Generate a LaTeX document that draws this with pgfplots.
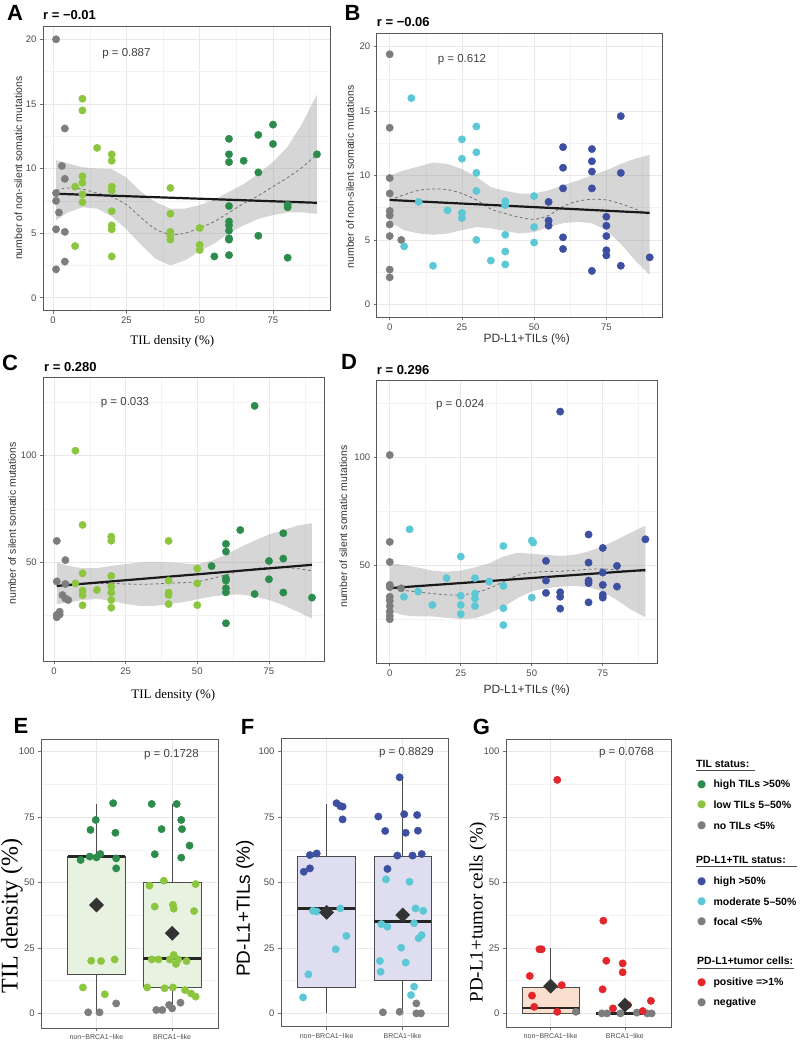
\documentclass[border=0pt]{standalone}
\usepackage{fontspec}
\setmainfont{Liberation Sans}
\newfontfamily\serif{Liberation Serif}
\newfontfamily\dejavu{DejaVu Sans}
\usepackage{pgfplots}
\pgfplotsset{compat=1.18}

\definecolor{dkgreen}{RGB}{44,140,75}
\definecolor{ltgreen}{RGB}{140,198,63}
\definecolor{ptgrey}{RGB}{125,125,125}
\definecolor{dkblue}{RGB}{60,79,160}
\definecolor{ltcyan}{RGB}{92,200,214}
\definecolor{ptred}{RGB}{227,38,43}
\definecolor{boxgreen}{RGB}{232,242,225}
\definecolor{boxblue}{RGB}{222,222,240}
\definecolor{boxred}{RGB}{250,222,206}

\tikzset{ptxt/.style={font=\fontsize{11.5}{12}\selectfont, text=black!75}}
\pgfplotsset{
  ggbase/.style={
    scale only axis, anchor=north west,
    axis line style={draw=black!65, line width=0.8pt},
    tick align=outside, tick pos=left,
    major tick length=3pt, minor tick length=0pt,
    tick style={black!55, line width=0.6pt},
    grid=both,
    major grid style={black!9, line width=0.7pt},
    minor grid style={black!5, line width=0.5pt},
    tick label style={font=\fontsize{9.5}{10}\selectfont, text=black!70},
    /pgf/number format/assume math mode=true,
    clip=true,
  },
  pts/.style={only marks, mark=*, mark size=3.7pt, color=#1},
  band/.style={fill=black!40, fill opacity=0.4, draw=none},
  loess/.style={black!55, dash pattern=on 3pt off 2.5pt, line width=0.8pt, smooth},
  lmline/.style={black!90, line width=2.2pt},
  boxax/.style={ggbase, xtick={1,2}, xticklabels={non−BRCA1−like, BRCA1−like},
    x tick label style={font=\fontsize{7}{7}\selectfont},
    ytick={0,25,50,75,100}, minor ytick={12.5,37.5,62.5,87.5}, minor xtick={}},
  whisk/.style={black!70, line width=0.8pt},
  boxsty/.style={draw=black!70, fill=#1, line width=0.8pt},
  med/.style={black!85, line width=2.6pt},
  mean/.style={only marks, mark=square*, mark size=5pt, mark options={rotate=45}, color=black!80},
}

\begin{document}
\begin{tikzpicture}
\path[use as bounding box] (0pt,0pt) rectangle (800pt,-1040pt);

% ---------------- A ----------------
\begin{axis}[ggbase, at={(43pt,-26pt)}, width=287pt, height=284.7pt,
  xmin=-3.45, xmax=94.45, ymin=-1, ymax=21.03,
  xtick={0,25,50,75}, minor xtick={12.5,37.5,62.5,87.5},
  ytick={0,5,10,15,20}, minor ytick={2.5,7.5,12.5,17.5}]
\addplot[pts=ptgrey] coordinates {(1,20) (4,13.1) (3,10.2) (4,9.2) (1,8.1) (1,7.5) (2,6.6) (1,5.3) (4,5.1) (4,2.8) (1,2.2)};
\addplot[pts=ltgreen] coordinates {(10,15.4) (10,14.5) (15,11.6) (20,11.1) (20,10.6) (7.5,8.6) (10,9.4) (10,8.9) (10,8.0) (10,7.4) (20,8.6) (20,8.3) (20,6.7) (20,5.6) (20,5.3) (20,3.2) (7.5,4.0) (40,8.5) (40,6.5) (40,5.1) (40,4.8) (40,4.5) (50,5.4) (50,4.1) (50,3.7)};
\addplot[pts=dkgreen] coordinates {(55,3.2) (60,12.3) (60,11.1) (60,10.5) (60,7.1) (60,5.9) (60,5.6) (60,5.2) (60,4.6) (60,4.5) (60,3.3) (65,10.6) (70,12.6) (70,9.7) (70,4.8) (75,13.4) (75,11.9) (80,7.2) (80,7.0) (80,3.1) (90,11.1)};
\addplot[band] coordinates {(1,10.65) (5,10.4) (10,10.1) (15,10.0) (20,9.95) (25,9.3) (30,8.2) (35,7.4) (40,6.9) (45,6.9) (50,7.17) (55,7.6) (60,8.2) (65,8.8) (70,9.6) (75,10.5) (80,11.7) (85,13.5) (90,15.74)
  (90,6.5) (85,6.6) (80,6.6) (75,6.4) (70,6.1) (65,5.6) (60,5.0) (55,4.2) (50,3.6) (45,2.9) (40,2.5) (35,3.0) (30,4.1) (25,5.3) (20,6.3) (15,6.9) (10,7.0) (5,6.6) (1,6.0)} -- cycle;
\addplot[loess] coordinates {(1,8.3) (5,8.5) (10,8.4) (15,8.1) (20,7.8) (25,7.2) (30,6.2) (35,5.3) (40,4.9) (45,5.0) (50,5.4) (55,5.9) (60,6.6) (65,7.3) (70,7.9) (75,8.6) (80,9.3) (85,10.1) (90,11.1)};
\addplot[lmline] coordinates {(1,8.05) (90,7.35)};
\node[ptxt] at (axis cs:25,18.9) {p = 0.887};
\end{axis}

% ---------------- B ----------------
\begin{axis}[ggbase, at={(376.7pt,-33pt)}, width=286pt, height=284.3pt,
  xmin=-4.5, xmax=94.5, ymin=-1, ymax=21.05,
  xtick={0,25,50,75}, minor xtick={12.5,37.5,62.5,87.5},
  ytick={0,5,10,15,20}, minor ytick={2.5,7.5,12.5,17.5}]
\addplot[pts=ptgrey] coordinates {(0,19.4) (0,13.7) (0,9.8) (0,8.6) (0,7.25) (0,6.9) (0,6.2) (0,5.3) (4,5.0) (0,2.7) (0,2.1)};
\addplot[pts=ltcyan] coordinates {(7.5,16.0) (5,4.5) (10,7.95) (15,3.0) (20,7.3) (25,12.8) (25,11.3) (25,7.1) (25,6.7) (30,13.8) (30,11.8) (30,10.2) (30,8.8) (30,5.0) (35,3.4) (40,8.0) (40,7.7) (40,5.4) (40,4.1) (40,3.1) (50,8.4) (50,6.0) (50,4.8)};
\addplot[pts=dkblue] coordinates {(55,7.95) (55,6.5) (55,6.1) (60,12.2) (60,10.6) (60,9.0) (60,5.2) (60,4.3) (70,12.05) (70,11.1) (70,10.3) (70,9.0) (70,2.6) (75,6.8) (75,6.1) (75,5.3) (75,4.2) (75,3.8) (80,14.6) (80,10.2) (80,3.0) (90,3.65)};
\addplot[band] coordinates {(0,10.0) (5,10.4) (10,10.7) (15,11.0) (20,10.9) (25,10.5) (30,9.9) (35,9.1) (40,8.8) (45,8.6) (50,8.6) (55,8.85) (60,9.25) (65,9.6) (70,10.0) (75,10.4) (80,10.9) (85,11.3) (90,11.6)
  (90,2.3) (85,3.4) (80,4.7) (75,5.75) (70,6.3) (65,6.4) (60,6.3) (55,6.0) (50,5.6) (45,5.5) (40,5.7) (35,5.9) (30,6.0) (25,5.75) (20,5.5) (15,5.4) (10,5.5) (5,5.75) (0,6.4)} -- cycle;
\addplot[loess] coordinates {(0,8.1) (5,8.5) (10,8.85) (15,8.95) (20,8.9) (25,8.6) (30,8.1) (35,7.4) (40,7.05) (45,6.75) (50,6.6) (55,6.9) (60,7.6) (65,8.0) (70,8.15) (75,8.1) (80,7.8) (85,7.4) (90,6.95)};
\addplot[lmline] coordinates {(0,8.1) (90,7.1)};
\node[ptxt] at (axis cs:25,19.0) {p = 0.612};
\end{axis}

% ---------------- C ----------------
\begin{axis}[ggbase, at={(43.3pt,-377.3pt)}, width=281pt, height=283.7pt,
  xmin=-3.7, xmax=94.3, ymin=3.7, ymax=136.7,
  xtick={0,25,50,75}, minor xtick={12.5,37.5,62.5,87.5},
  ytick={50,100}, minor ytick={25,75,125}]
\addplot[pts=ptgrey] coordinates {(1,60) (4,51) (1,41) (4,39.8) (3,34.6) (4,33) (5,32.3) (2,26.8) (1,25.3) (1,24.2) (2,25.5)};
\addplot[pts=ltgreen] coordinates {(7.5,102.3) (10,67.5) (10,44.8) (10,36.7) (10,34.6) (10,29.8) (7.5,40.1) (15,37) (20,62) (20,60.1) (20,43.6) (20,38.6) (20,35.8) (20,32.3) (20,28.7) (40,60) (40,41.4) (40,35.8) (40,34.6) (40,30.4) (50,47) (50,40.1) (50,29.9)};
\addplot[pts=dkgreen] coordinates {(55,48.2) (60,58.6) (60,55) (60,42.5) (60,41.4) (60,37.8) (60,35.9) (60,21.4) (65,65.1) (70,123.3) (70,35.1) (75,50.6) (75,42) (80,63.6) (80,51.7) (80,35.8) (90,33.4)};
\addplot[band] coordinates {(1,49.9) (5,48.3) (10,47.2) (15,47.2) (20,48.3) (25,49.1) (30,49.9) (35,50.2) (40,49.9) (45,49.5) (50,49.1) (55,50.7) (60,53.5) (65,57) (70,60.2) (75,63) (80,65.1) (85,67.2) (90,68.3)
  (90,23.6) (85,26.8) (80,29.9) (75,32.3) (70,33.9) (65,34.9) (60,34.7) (55,33.9) (50,32.6) (45,31.2) (40,30.4) (35,29.5) (30,29.5) (25,30.4) (20,32) (15,32.8) (10,32.3) (5,31.1) (1,30.4)} -- cycle;
\addplot[loess] coordinates {(1,40.2) (5,39.7) (10,39.8) (15,40) (20,40.1) (25,39.8) (30,39.7) (35,39.8) (40,40.2) (45,40.4) (50,40.9) (55,42.3) (60,44.1) (65,45.9) (70,47.0) (75,47.6) (80,47.5) (85,47) (90,46)};
\addplot[lmline] coordinates {(1,38.9) (90,48.8)};
\node[ptxt] at (axis cs:24.8,124.8) {p = 0.033};
\end{axis}

% ---------------- D ----------------
\begin{axis}[ggbase, at={(376.7pt,-380.7pt)}, width=280.6pt, height=282.6pt,
  xmin=-4.6, xmax=94.2, ymin=4.8, ymax=135.6,
  xtick={0,25,50,75}, minor xtick={12.5,37.5,62.5,87.5},
  ytick={50,100}, minor ytick={25,75,125}]
\addplot[pts=ptgrey] coordinates {(0,101.2) (0,61.0) (0,51.7) (0,41.1) (0,40) (4,39.5) (0,35.6) (0,33.8) (0,31.3) (0,28.7) (0,26.7) (0,25.2)};
\addplot[pts=ltcyan] coordinates {(7,66.8) (5,35.6) (10,38) (15,31.8) (20,44.2) (25,54.2) (25,36.1) (25,31.8) (25,27.6) (30,44.2) (30,37.1) (30,34.8) (30,31.3) (35,42.6) (40,59.1) (40,40.6) (40,30.3) (40,22.5) (50,61.6) (50.5,60.7) (50,35.2)};
\addplot[pts=dkblue] coordinates {(60,121.3) (55,52.2) (55,43.1) (55,37.4) (60,37.7) (60,35.6) (60,30.1) (70,64.4) (70,51.4) (70,43.1) (70,41.9) (70,33.0) (75,58.2) (75,46.8) (75,41.1) (75,36.5) (75,35.2) (80,49.9) (80,40.3) (90,62.2)};
\addplot[band] coordinates {(0,51.1) (5,50.3) (10,49.1) (15,47.7) (20,47.2) (25,47.7) (30,49.2) (35,51.1) (40,54.2) (45,56) (50,55.5) (55,55) (60,54.5) (65,55) (70,56.6) (75,58.9) (80,62) (85,65.4) (90,68.5)
  (90,26.1) (85,29.6) (80,34) (75,38.1) (70,40) (65,40.6) (60,40.3) (55,39.6) (50,38.1) (45,35) (40,30.8) (35,27.9) (30,25.6) (25,25.3) (20,25.8) (15,26.5) (10,26.5) (5,27) (0,29)} -- cycle;
\addplot[loess] coordinates {(0,40) (5,38.6) (10,37.8) (15,37.1) (20,36.5) (25,36.5) (30,37.4) (35,39.5) (40,42.5) (45,45.5) (50,46.8) (55,47.3) (60,47.4) (65,47.8) (70,48.3) (75,48.5) (80,48) (85,47.5) (90,47.3)};
\addplot[lmline] coordinates {(0,39.6) (90,48.0)};
\node[ptxt] at (axis cs:24.8,124.3) {p = 0.024};
\end{axis}

% ---------------- E ----------------
\begin{axis}[boxax, at={(41.3pt,-739.3pt)}, width=177pt, height=289pt,
  xmin=0.27, xmax=2.61, ymin=-5.7, ymax=104.7]
\addplot[whisk] coordinates {(1,0.2) (1,15)};
\addplot[whisk] coordinates {(1,60) (1,80)};
\addplot[whisk] coordinates {(2,1.5) (2,10)};
\addplot[whisk] coordinates {(2,50) (2,80)};
\addplot[boxsty=boxgreen] coordinates {(0.62,15) (1.38,15) (1.38,60) (0.62,60)} -- cycle;
\addplot[boxsty=boxgreen] coordinates {(1.62,10) (2.38,10) (2.38,50) (1.62,50)} -- cycle;
\addplot[med] coordinates {(0.62,60) (1.38,60)};
\addplot[med] coordinates {(1.62,21) (2.38,21)};
\addplot[pts=dkgreen] coordinates {(1.22,80.3) (0.99,73.9) (0.92,70.1) (1.25,69.0) (0.79,58.6) (0.91,59.9) (1.0,59.6) (1.05,60.9) (1.26,59.2) (1.26,55.4)
 (1.73,80.0) (2.06,80.0) (1.86,70.4) (2.12,73.9) (2.13,70.4) (2.23,64.1) (1.77,60.8) (2.12,59.5)};
\addplot[pts=ltgreen] coordinates {(0.93,20.1) (1.06,20.0) (1.24,20.6) (0.82,9.9) (1.11,7.3)
 (1.70,48.8) (1.89,50.7) (2.31,49.4) (1.77,40.8) (2.01,41.5) (2.02,40.0) (2.29,39.1) (1.73,20.6) (1.82,20.6) (1.97,20.6) (2.02,22.3) (2.08,20.6) (2.19,20.0) (2.05,18.9) (1.67,9.9) (1.90,9.6) (2.01,9.9) (2.17,8.9) (2.25,7.6) (2.31,6.4)};
\addplot[pts=ptgrey] coordinates {(0.89,0.4) (1.04,0.4) (1.26,3.8) (1.79,1.3) (1.87,1.3) (1.96,3.2) (2.0,1.9) (2.11,4.1)};
\addplot[mean] coordinates {(1,41.4) (2,30.6)};
\node[ptxt] at (axis cs:1.99,99) {p = 0.1728};
\end{axis}

% ---------------- F ----------------
\begin{axis}[boxax, at={(281pt,-738.3pt)}, width=167.3pt, height=288.4pt,
  xmin=0.4, xmax=2.6, ymin=-5.1, ymax=105.1]
\addplot[whisk] coordinates {(1,0) (1,10)};
\addplot[whisk] coordinates {(1,60) (1,80)};
\addplot[whisk] coordinates {(2,0) (2,12.5)};
\addplot[whisk] coordinates {(2,60) (2,90)};
\addplot[boxsty=boxblue] coordinates {(0.622,10) (1.378,10) (1.378,60) (0.622,60)} -- cycle;
\addplot[boxsty=boxblue] coordinates {(1.622,12.5) (2.378,12.5) (2.378,60) (1.622,60)} -- cycle;
\addplot[med] coordinates {(0.622,40) (1.378,40)};
\addplot[med] coordinates {(1.622,35) (2.378,35)};
\addplot[pts=dkblue] coordinates {(1.13,80.3) (1.18,79.2) (1.21,79.0) (1.21,74.1) (0.78,60.5) (0.87,61.1) (0.70,54.1) (0.78,55.4)
 (1.96,90.2) (1.68,75.2) (2.02,76.1) (2.19,75.8) (1.77,69.7) (2.04,69.0) (2.20,69.8) (1.93,60.3) (2.13,60.3) (2.25,60.9) (1.80,55.2)};
\addplot[pts=ltcyan] coordinates {(0.82,39.2) (0.87,38.9) (1.18,40.1) (1.26,29.6) (1.12,24.5) (0.76,14.9) (0.69,6.1)
 (1.78,51.2) (2.09,50.3) (2.17,40.1) (2.27,39.2) (2.15,34.4) (1.72,34.1) (1.80,33.1) (2.25,29.9) (2.21,28.7) (1.98,25.1) (2.04,19.4) (1.70,20.0) (1.71,15.9) (2.15,10.2) (2.11,7.0)};
\addplot[pts=ptgrey] coordinates {(1.74,0.4) (1.96,0.6) (2.18,3.8) (2.18,0) (2.24,0)};
\addplot[mean] coordinates {(1,38.6) (2,37.6)};
\node[ptxt] at (axis cs:2.05,99.5) {p = 0.8829};
\end{axis}

% ---------------- G ----------------
\begin{axis}[boxax, at={(506pt,-739pt)}, width=165.7pt, height=288pt,
  xmin=0.4, xmax=2.63, ymin=-5.2, ymax=104.8]
\addplot[whisk] coordinates {(1,10) (1,25)};
\addplot[boxsty=boxred] coordinates {(0.615,0) (1.385,0) (1.385,10) (0.615,10)} -- cycle;
\addplot[med] coordinates {(0.615,2) (1.385,2)};
\addplot[med] coordinates {(1.615,0) (2.385,0)};
\addplot[pts=ptgrey] coordinates {(1.34,0.6) (1.69,0) (1.76,0) (1.94,0) (2.16,0.3) (2.30,0) (2.36,0)};
\addplot[pts=ptred] coordinates {(1.09,89.2) (0.85,24.5) (0.88,24.5) (0.72,14.3) (1.15,10.8) (0.75,6.8) (0.78,2.5) (1.09,0.6)
 (1.71,35.4) (1.75,20.1) (1.97,19.1) (1.97,15.7) (1.70,9.2) (2.35,4.8) (1.84,1.9) (2.04,3.2) (2.24,0.9)};
\addplot[mean] coordinates {(1,10.4) (2,3.2)};
\node[ptxt] at (axis cs:2.02,99.5) {p = 0.0768};
\end{axis}

% ---------------- titles and labels ----------------
\begin{scope}[every node/.style={inner sep=0pt}]
\node[font=\fontsize{22}{22}\selectfont\bfseries] at (15pt,-12.5pt) {A};
\node[font=\fontsize{22}{22}\selectfont\bfseries] at (352.5pt,-12.5pt) {B};
\node[font=\fontsize{22}{22}\selectfont\bfseries] at (10pt,-362.5pt) {C};
\node[font=\fontsize{22}{22}\selectfont\bfseries] at (349pt,-362pt) {D};
\node[font=\fontsize{22}{22}\selectfont\bfseries] at (21pt,-726pt) {E};
\node[font=\fontsize{22}{22}\selectfont\bfseries] at (247.5pt,-727pt) {F};
\node[font=\fontsize{22}{22}\selectfont\bfseries] at (481.5pt,-727pt) {G};

\node[anchor=west, font=\fontsize{13}{13}\selectfont\bfseries] at (43pt,-15pt) {r = −0.01};
\node[anchor=west, font=\fontsize{13}{13}\selectfont\bfseries] at (376.7pt,-21.7pt) {r = −0.06};
\node[anchor=west, font=\fontsize{13}{13}\selectfont\bfseries] at (44pt,-366.7pt) {r = 0.280};
\node[anchor=west, font=\fontsize{13}{13}\selectfont\bfseries] at (376.7pt,-370pt) {r = 0.296};

\node[font=\serif\fontsize{13}{13}\selectfont] at (172.3pt,-341.7pt) {TIL density (\%)};
\node[font=\fontsize{12}{12}\selectfont, text=black!80] at (526.7pt,-339.3pt) {PD-L1+TILs (\%)};
\node[font=\serif\fontsize{13}{13}\selectfont] at (173.3pt,-695pt) {TIL density (\%)};
\node[font=\fontsize{12}{12}\selectfont, text=black!80] at (526.7pt,-690pt) {PD-L1+TILs (\%)};

\node[rotate=90, font=\fontsize{10.5}{11}\selectfont, text=black!80] at (18.3pt,-168.3pt) {number of non-silent somatic mutations};
\node[rotate=90, font=\fontsize{10.5}{11}\selectfont, text=black!80] at (350pt,-176.7pt) {number of non-silent somatic mutations};
\node[rotate=90, font=\fontsize{10.5}{11}\selectfont, text=black!80] at (12pt,-523.3pt) {number of silent somatic mutations};
\node[rotate=90, font=\fontsize{10.5}{11}\selectfont, text=black!80] at (343.3pt,-526.7pt) {number of silent somatic mutations};

\node[rotate=90, font=\serif\fontsize{24}{24}\selectfont] at (12pt,-915.8pt) {TIL density (\%)};
\node[rotate=90, font=\fontsize{19}{19}\selectfont] at (245pt,-908.3pt) {PD-L1+TILs (\%)};
\node[rotate=90, font=\serif\fontsize{19}{19}\selectfont] at (478pt,-912pt) {PD-L1+tumor cells (\%)};

% legend
\begin{scope}[every node/.style={anchor=west, inner sep=0pt, font=\fontsize{10.5}{11}\selectfont\bfseries}]
\node at (696pt,-764pt) {TIL status:};
\draw[black!70, line width=0.7pt] (696pt,-770.7pt) -- (755pt,-770.7pt);
\node[text=dkgreen] at (697pt,-785pt) {\dejavu\mdseries ●};
\node at (713.3pt,-785pt) {high TILs >50\%};
\node[text=ltgreen] at (697pt,-805pt) {\dejavu\mdseries ●};
\node at (713.3pt,-805pt) {low TILs 5–50\%};
\node[text=ptgrey] at (697pt,-826pt) {\dejavu\mdseries ●};
\node at (713.3pt,-826pt) {no TILs <5\%};

\node at (696pt,-860pt) {PD-L1+TIL status:};
\draw[black!70, line width=0.7pt] (696pt,-866.7pt) -- (797pt,-866.7pt);
\node[text=dkblue] at (697pt,-881.7pt) {\dejavu\mdseries ●};
\node at (713.3pt,-881.7pt) {high >50\%};
\node[text=ltcyan] at (697pt,-902pt) {\dejavu\mdseries ●};
\node at (713.3pt,-902pt) {moderate 5–50\%};
\node[text=ptgrey] at (697pt,-922pt) {\dejavu\mdseries ●};
\node at (713.3pt,-922pt) {focal <5\%};

\node at (697pt,-961pt) {PD-L1+tumor cells:};
\draw[black!70, line width=0.7pt] (697pt,-968pt) -- (794pt,-968pt);
\node[text=ptred] at (697pt,-982.3pt) {\dejavu\mdseries ●};
\node at (713.3pt,-982.3pt) {positive =>1\%};
\node[text=ptgrey] at (697pt,-1002.3pt) {\dejavu\mdseries ●};
\node at (713.3pt,-1002.3pt) {negative};
\end{scope}
\end{scope}
\end{tikzpicture}
\end{document}
